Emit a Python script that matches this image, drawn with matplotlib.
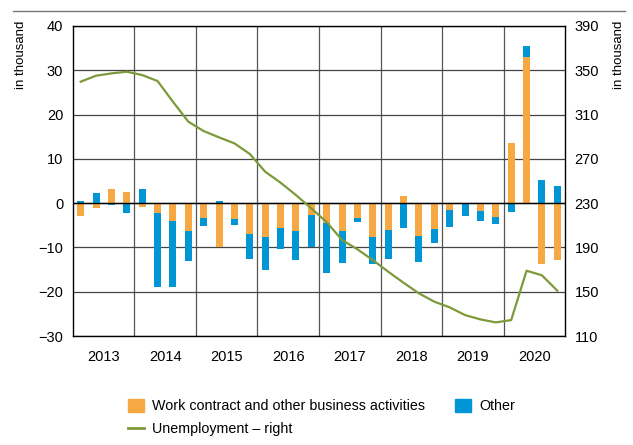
import matplotlib.pyplot as plt
import numpy as np
from matplotlib.patches import Patch
from matplotlib.lines import Line2D

plt.rcParams['font.family'] = ['Liberation Sans', 'DejaVu Sans']

# quarterly data 2013Q1 - 2020Q4, in thousand
years = ['2013', '2014', '2015', '2016', '2017', '2018', '2019', '2020']
work_contract = [-3.0, -1.2, 3.2, 2.6, -0.9, -2.3, -4.1, -6.4,
                 -3.4, -10.0, -3.5, -6.9, -7.6, -5.6, -6.4, -2.6,
                 -4.4, -6.2, -3.4, -7.7, -6.0, 1.7, -7.4, -5.9,
                 -1.5, -0.2, -1.7, -3.2, 13.5, 32.9, -13.7, -12.8]
other = [0.5, 2.3, -0.4, -2.3, 3.2, -16.7, -14.9, -6.6,
         -1.7, 0.5, -1.4, -5.6, -7.4, -4.7, -6.5, -7.2,
         -11.3, -7.4, -0.8, -6.0, -6.5, -5.7, -5.9, -3.2,
         -3.8, -2.6, -2.4, -1.6, -1.9, 2.6, 5.2, 3.9]
unemployment = [339.7, 345.1, 347.2, 348.7, 345.7, 340.3, 321.6, 303.6,
                295.1, 289.4, 284.0, 274.4, 258.4, 248.5, 237.3, 225.3,
                212.8, 196.7, 188.3, 178.6, 168.1, 158.1, 148.5, 141.0,
                135.9, 128.9, 125.0, 122.3, 124.4, 169.0, 164.8, 150.9]

orange = '#F6A943'
blue = '#0095D5'
green = '#7D9A3A'

x = np.arange(len(work_contract))
wc = np.array(work_contract)
ot = np.array(other)

fig = plt.figure(figsize=(6.33, 4.45), dpi=100)
ax = fig.add_axes([0.1153, 0.2449, 0.7773, 0.6967])

# stacked bars, positives stack up and negatives stack down
wc_base = np.zeros_like(wc)
ot_base = np.where(np.sign(ot) == np.sign(wc), wc, 0.0)
ax.bar(x, wc, width=0.46, bottom=wc_base, color=orange, zorder=3)
ax.bar(x, ot, width=0.46, bottom=ot_base, color=blue, zorder=3)

ax.set_xlim(-0.5, len(x) - 0.5)
ax.set_ylim(-30, 40)
ax.set_yticks(range(-30, 41, 10))
ax.set_yticklabels([str(v).replace('-', '\u2212') for v in range(-30, 41, 10)])
ax.set_xticks(np.arange(1.5, 32, 4))
ax.set_xticklabels(years)
ax.set_xticks(np.arange(3.5, 31, 4), minor=True)
ax.tick_params(axis='x', which='both', length=0, labelsize=10.5, pad=10)
ax.tick_params(axis='y', length=0, labelsize=10.5, pad=7)

ax.grid(axis='y', color='#444444', linewidth=0.9, zorder=0)
ax.grid(axis='x', which='minor', color='#555555', linewidth=0.9, zorder=0)
ax.axhline(0, color='black', linewidth=1.0, zorder=4)
for s in ax.spines.values():
    s.set_linewidth(1.0)
    s.set_color('black')
ax.set_ylabel('in thousand', fontsize=9.5)
ax.yaxis.set_label_coords(-0.0935, 1.016)
ax.yaxis.label.set_ha('right')

ax2 = ax.twinx()
ax2.plot(x, unemployment, color=green, linewidth=1.6, zorder=5)
ax2.set_ylim(110, 390)
ax2.set_yticks(range(110, 391, 40))
ax2.tick_params(axis='y', length=0, labelsize=10.5, pad=7)
ax2.set_ylabel('in thousand', fontsize=9.5)
ax2.yaxis.set_label_coords(1.098, 1.016)
ax2.yaxis.label.set_ha('right')
for s in ax2.spines.values():
    s.set_visible(False)

# top rule
fig.add_artist(Line2D([0.02, 0.988], [0.975, 0.975], color='#777777', linewidth=1.0))

handles = [Patch(color=orange), Line2D([], [], color=green, linewidth=2),
           Patch(color=blue)]
labels = ['Work contract and other business activities', 'Unemployment \u2013 right', 'Other']
fig.legend(handles, labels, ncol=2, loc='upper left',
           bbox_to_anchor=(0.191, 1 - 392 / 445),
           frameon=False, fontsize=10.3, handlelength=1.1, handleheight=1.0,
           handletextpad=0.6, columnspacing=2.1, labelspacing=0.6, borderpad=0)

fig.savefig('out.png', dpi=100)
